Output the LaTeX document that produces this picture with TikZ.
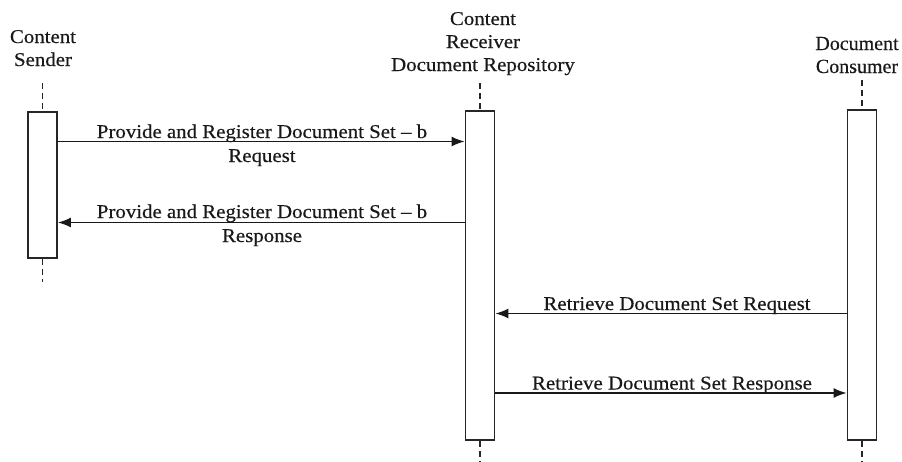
\documentclass[tikz,border=0pt]{standalone}
\usepackage{fontspec}
\setmainfont{Liberation Serif}[FakeStretch=1.07,FakeBold=0.4]
\newfontfamily\consfont{Liberation Serif}[FakeBold=0.4]
\usetikzlibrary{arrows.meta}
\begin{document}
\begin{tikzpicture}[x=1pt,y=-1pt,
  life/.style={draw=black!85, line width=1.6pt, fill=white, inner sep=0pt, minimum width=29pt},
  lifedash/.style={draw=black!85, line width=1.6pt, dash pattern=on 6pt off 4pt},
  msg/.style={draw=black!90, line width=1.8pt, -{Latex[length=13pt,width=10pt]}},
  lbl/.style={font=\fontsize{19.5}{24}\selectfont, inner sep=0pt, align=center, text=black!90},
  hdr/.style={font=\fontsize{19.5}{23}\selectfont, inner sep=0pt, align=center, text=black!90}]
\useasboundingbox (0,0) rectangle (902,461);
% lifeline boxes
\node[life, minimum height=146pt] (sbox) at (42.5,185) {};
\node[life, minimum height=329pt] (rbox) at (480,275.5) {};
\node[life, minimum height=330pt] (cbox) at (862,275) {};
% headers (anchor base = last line)
\node[hdr, anchor=base] (shdr) at (43,66) {Content\\Sender};
\node[hdr, anchor=base] (rhdr) at (483,71) {Content\\Receiver\\Document Repository};
\node[hdr, font=\consfont\fontsize{20}{23}\selectfont, anchor=base] (chdr) at (857,73) {Document\\Consumer};
% dashed lifelines
\coordinate (stop) at (42.5,83);
\coordinate (sbot) at (42.5,282);
\coordinate (rtop) at (480,83);
\coordinate (rbot) at (480,461);
\coordinate (ctop) at (862,80);
\coordinate (cbot) at (862,461);
\draw[lifedash] (stop) -- (sbox.north);
\draw[lifedash] (sbox.south) -- (sbot);
\draw[lifedash] (rtop) -- (rbox.north);
\draw[lifedash] (rbox.south) -- (rbot);
\draw[lifedash] (ctop) -- (cbox.north);
\draw[lifedash] (cbox.south) -- (cbot);
% messages
\draw[msg] (sbox.east |- 0,141.5) -- (rbox.west |- 0,141.5);
\node[lbl, anchor=base] (m1) at (262,162) {Provide and Register Document Set -- b\\Request};
\draw[msg] (rbox.west |- 0,222.5) -- (sbox.east |- 0,222.5);
\node[lbl, anchor=base] (m2) at (262,242) {Provide and Register Document Set -- b\\Response};
\draw[msg] (cbox.west |- 0,313.5) -- (rbox.east |- 0,313.5);
\node[lbl, anchor=base] (m3) at (677,310) {Retrieve Document Set Request};
\draw[msg] (rbox.east |- 0,393) -- (cbox.west |- 0,393);
\node[lbl, anchor=base] (m4) at (672,389.5) {Retrieve Document Set Response};
\end{tikzpicture}
\end{document}
